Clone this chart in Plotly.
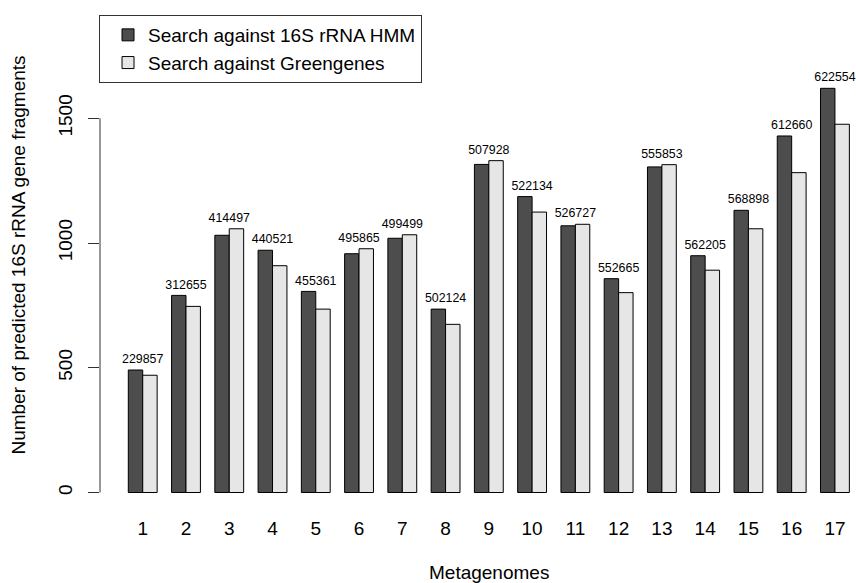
import plotly.graph_objects as go

# Metagenome sample names and counts of predicted 16S rRNA gene fragments
metagenomes = [str(i) for i in range(1, 18)]
hmm_counts = [491, 790, 1031, 971, 806, 957, 1019, 735, 1315, 1186,
              1069, 857, 1305, 949, 1131, 1429, 1620]
greengenes_counts = [470, 746, 1057, 909, 735, 977, 1033, 674, 1330, 1124,
                     1075, 801, 1314, 891, 1057, 1282, 1476]
# Total reads per metagenome, printed above each pair of bars
read_totals = ["229857", "312655", "414497", "440521", "455361", "495865",
               "499499", "502124", "507928", "522134", "526727", "552665",
               "555853", "562205", "568898", "612660", "622554"]
y_ticks = [0, 500, 1000, 1500]

FONT = "Liberation Sans, Arial, Helvetica, sans-serif"
DARK = "#4d4d4d"
LIGHT = "#e6e6e6"

# Grouped layout: each group is two unit-wide bars followed by one unit of space
n = len(metagenomes)
dark_x = [3 * k + 1.5 for k in range(n)]
light_x = [3 * k + 2.5 for k in range(n)]
group_x = [3 * k + 2 for k in range(n)]
label_y = [max(a, b) + 40 for a, b in zip(hmm_counts, greengenes_counts)]

fig = go.Figure()
fig.add_trace(go.Bar(
    x=dark_x, y=hmm_counts, width=1, name="Search against 16S rRNA HMM",
    marker=dict(color=DARK, line=dict(color="#000000", width=1)),
))
fig.add_trace(go.Bar(
    x=light_x, y=greengenes_counts, width=1, name="Search against Greengenes",
    marker=dict(color=LIGHT, line=dict(color="#000000", width=1)),
))
fig.add_trace(go.Scatter(
    x=group_x, y=label_y, mode="text", text=read_totals,
    textposition="middle center", showlegend=False,
    textfont=dict(family=FONT, size=12.4, color="#000000"),
    hoverinfo="skip",
))

# Axis line spanning only the labelled tick range
fig.add_shape(type="line", xref="paper", yref="y", x0=0, x1=0,
              y0=y_ticks[0], y1=y_ticks[-1],
              line=dict(color="#333333", width=1))

fig.add_annotation(
    text="Metagenomes", xref="x", yref="paper",
    x=(dark_x[0] - 0.5 + light_x[-1] + 0.5) / 2, y=0,
    yshift=-72, yanchor="middle", showarrow=False,
    font=dict(family=FONT, size=19, color="#000000"),
)

fig.update_layout(
    width=856, height=583,
    margin=dict(l=100, r=0, t=10, b=83),
    paper_bgcolor="white", plot_bgcolor="white",
    barmode="overlay",
    font=dict(family=FONT, size=19, color="#000000"),
    showlegend=True,
    legend=dict(
        x=-0.0013, y=0.9898, xanchor="left", yanchor="top",
        bgcolor="white", bordercolor="#333333", borderwidth=1,
        indentation=8, entrywidth=300, entrywidthmode="pixels",
        font=dict(family=FONT, size=19, color="#000000"),
    ),
    xaxis=dict(
        range=[-0.9626, 51.46], showgrid=False, zeroline=False,
        showline=False, ticks="", tickmode="array",
        tickvals=group_x, ticktext=metagenomes,
        tickfont=dict(family=FONT, size=19, color="#000000"),
        ticklabelstandoff=15,
    ),
    yaxis=dict(
        range=[-30.06, 1933.9], showgrid=False, zeroline=False,
        showline=False, ticks="outside", ticklen=11, tickcolor="#333333",
        tickmode="array", tickvals=y_ticks,
        ticktext=[str(v) for v in y_ticks], tickangle=-90,
        tickfont=dict(family=FONT, size=19, color="#000000"),
        ticklabelstandoff=8,
        title=dict(text="Number of predicted 16S rRNA gene fragments",
                   font=dict(family=FONT, size=19, color="#000000"),
                   standoff=24),
    ),
)

fig.write_html("out.html")
